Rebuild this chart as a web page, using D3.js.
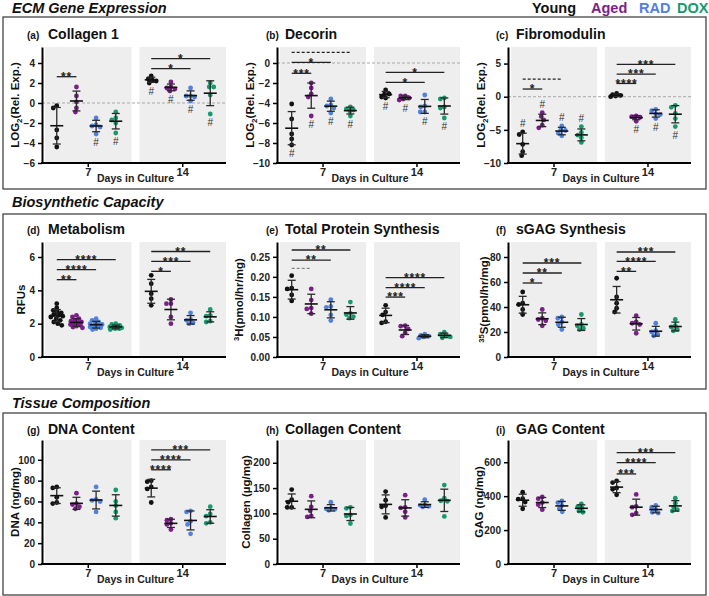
<!DOCTYPE html>
<html><head><meta charset="utf-8">
<script src="https://cdn.jsdelivr.net/npm/d3@7"></script>
<style>
html,body{margin:0;padding:0;background:#fff;}
svg{display:block;font-family:"Liberation Sans",Arial,Helvetica,sans-serif;}
</style></head><body>
<svg id="chart" width="709" height="596"></svg>
<script>
// ---------- categories / labels ----------
const groups = ["Young", "Aged", "RAD", "DOX"];
const groupColors = ["#111111", "#7b1e88", "#5080e0", "#17996f"];
const days = ["7", "14"];
const sectionTitles = ["ECM Gene Expression", "Biosynthetic Capacity", "Tissue Composition"];
const panelLetters = ["(a)", "(b)", "(c)", "(d)", "(e)", "(f)", "(g)", "(h)", "(i)"];
const panelTitles = ["Collagen 1", "Decorin", "Fibromodulin", "Metabolism", "Total Protein Synthesis",
  "sGAG Synthesis", "DNA Content", "Collagen Content", "GAG Content"];
const xAxisTitle = "Days in Culture";
const yLabels = [
  [["LOG", ""], ["2", "sub"], ["(Rel. Exp.)", ""]],
  [["LOG", ""], ["2", "sub"], ["(Rel. Exp.)", ""]],
  [["LOG", ""], ["2", "sub"], ["(Rel. Exp.)", ""]],
  [["RFUs", ""]],
  [["3", "sup"], ["H(pmol/hr/mg)", ""]],
  [["35", "sup"], ["S(pmol/hr/mg)", ""]],
  [["DNA (ng/mg)", ""]],
  [["Collagen (µg/mg)", ""]],
  [["GAG (ng/mg)", ""]]
];

// ---------- y domains & ticks ----------
const domainA = [-6, 5.6],   ticksA = [-6, -4, -2, 0, 2, 4];
const domainB = [-10, 1.6],  ticksB = [-10, -8, -6, -4, -2, 0];
const domainC = [-10, 7.5],  ticksC = [-10, -5, 0, 5];
const domainD = [0, 6.9],    ticksD = [0, 2, 4, 6];
const domainE = [0, 0.287],  ticksE = [0, 0.05, 0.10, 0.15, 0.20, 0.25];
const domainF = [0, 92],     ticksF = [0, 20, 40, 60, 80];
const domainG = [0, 119],    ticksG = [0, 20, 40, 60, 80, 100];
const domainH = [0, 245],    ticksH = [0, 50, 100, 150, 200];
const domainI = [0, 731],    ticksI = [0, 200, 400, 600];

// ---------- values: [Young, Aged, RAD, DOX] per day ----------
const collagen1Day7 = [[-0.27, -0.5, -2.7, -3.5, -4.4], [1.6, 0.7, 0.1, -0.5, -0.9], [-1.5, -2.2, -2.3, -2.4, -3.1], [-0.9, -1.5, -1.7, -2.0, -3.0]];
const collagen1Day14 = [[2.7, 2.4, 2.3, 2.2, 2.0], [2.1, 1.6, 1.5, 1.4, 1.2], [1.5, 0.7, 0.7, 0.6, 0.2], [2.0, 1.6, 1.6, 0.8, -1.1]];
const decorinDay7 = [[-4.1, -5.6, -7.1, -7.6, -8.2], [-2.0, -2.5, -3.1, -3.4, -5.3], [-3.6, -4.2, -4.3, -4.5, -5.0], [-4.4, -4.6, -4.7, -4.8, -5.3]];
const decorinDay14 = [[-2.7, -3.1, -3.1, -3.4, -3.5], [-3.3, -3.3, -3.5, -3.6, -3.7], [-3.2, -4.3, -4.4, -4.9, -4.9], [-3.5, -3.6, -4.4, -4.5, -5.5]];
const fibroDay7 = [[-5.3, -5.7, -7.2, -8.3, -8.9], [-2.4, -3.0, -3.5, -4.3, -4.7], [-4.4, -5.0, -5.1, -5.5, -5.9], [-4.5, -5.4, -5.8, -6.2, -6.9]];
const fibroDay14 = [[0.5, 0.3, 0.2, 0.1, 0.0], [-2.9, -3.0, -3.1, -3.1, -3.7], [-1.9, -2.1, -2.6, -2.7, -3.3], [-1.3, -1.6, -2.5, -3.3, -4.5]];
const metabDay7 = [
  [3.2, 2.95, 2.8, 2.7, 2.65, 2.55, 2.5, 2.45, 2.4, 2.3, 2.2, 2.1, 2.0, 1.9],
  [2.5, 2.4, 2.3, 2.2, 2.15, 2.1, 2.05, 2.0, 1.95, 1.9, 1.85, 1.8, 1.75],
  [2.3, 2.2, 2.1, 2.05, 2.0, 1.95, 1.9, 1.85, 1.8, 1.75, 1.7, 1.65],
  [2.0, 1.95, 1.9, 1.85, 1.8, 1.8, 1.75, 1.75, 1.7, 1.7, 1.65]];
const metabDay14 = [[4.9, 4.4, 3.8, 3.5, 3.1], [3.45, 3.2, 3.2, 2.4, 2.0], [2.65, 2.25, 2.2, 2.05, 2.0], [2.85, 2.5, 2.45, 2.15, 2.1]];
const proteinDay7 = [[0.203, 0.172, 0.170, 0.155, 0.140], [0.170, 0.142, 0.122, 0.120, 0.108], [0.143, 0.126, 0.124, 0.105, 0.091], [0.137, 0.109, 0.106, 0.101, 0.097]];
const proteinDay14 = [[0.129, 0.112, 0.105, 0.088, 0.085], [0.078, 0.077, 0.070, 0.060, 0.052], [0.057, 0.054, 0.052, 0.050, 0.047], [0.062, 0.057, 0.053, 0.050, 0.048]];
const sgagDay7 = [[52, 43, 42, 38, 34], [38, 31, 30, 29, 25], [32, 31, 28, 26, 22], [34, 26, 25, 23, 22]];
const sgagDay14 = [[63, 48, 43, 39, 36], [33, 28, 27, 26, 19], [27, 21, 20, 18, 17], [30, 25, 24, 22, 21]];
const dnaDay7 = [[74, 73, 64, 59, 58], [68, 58, 57, 55, 53], [74, 62, 61, 60, 50], [71, 60, 56, 50, 44]];
const dnaDay14 = [[80, 79, 74, 72, 59], [43, 42, 39, 38, 33], [51, 50, 41, 38, 29], [55, 48, 46, 40, 39]];
const collContDay7 = [[147, 127, 122, 112, 112], [134, 113, 105, 95, 93], [122, 110, 109, 108, 106], [112, 110, 97, 95, 80]];
const collContDay14 = [[143, 126, 115, 113, 92], [136, 112, 111, 103, 92], [127, 117, 116, 114, 113], [156, 130, 124, 125, 94]];
const gagDay7 = [[423, 385, 382, 365, 325], [395, 385, 362, 350, 320], [372, 362, 345, 325, 308], [355, 340, 330, 312, 305]];
const gagDay14 = [[490, 480, 448, 440, 408], [410, 340, 335, 300, 290], [345, 335, 320, 305, 300], [388, 358, 335, 320, 312]];

// ---------- "#" marks (b = below group, a = above group) ----------
const collagen1Hash7 = ["", "", "b", "b"], collagen1Hash14 = ["b", "b", "b", "b"];
const decorinHash7 = ["b", "b", "b", "b"], decorinHash14 = ["b", "b", "b", "b"];
const fibroHash7 = ["a", "a", "a", "a"], fibroHash14 = ["", "b", "b", "b"];
const noHash = ["", "", "", ""];

// ---------- significance comparisons: [day, from, to, label, level(value)] ----------
const collagen1Sig = [["7", "Young", "Aged", "**", 2.63], ["14", "Young", "RAD", "*", 3.43], ["14", "Young", "DOX", "*", 4.43]];
const decorinSig = [["7", "Young", "Aged", "***", -1.03], ["7", "Young", "RAD", "*", 0.07], ["7", "Young", "DOX", "dash", 1.07],
  ["14", "Young", "RAD", "*", -1.93], ["14", "Young", "DOX", "*", -0.93]];
const fibroSig = [["7", "Young", "Aged", "*", 1.16], ["7", "Young", "RAD", "dash", 2.66],
  ["14", "Young", "Aged", "****", 2.0], ["14", "Young", "RAD", "***", 3.4], ["14", "Young", "DOX", "***", 4.87]];
const metabSig = [["7", "Young", "Aged", "**", 4.64], ["7", "Young", "RAD", "****", 5.24], ["7", "Young", "DOX", "****", 5.84],
  ["14", "Young", "Aged", "*", 5.14], ["14", "Young", "RAD", "***", 5.74], ["14", "Young", "DOX", "**", 6.33]];
const proteinSig = [["7", "Young", "Aged", "dashGray", 0.221], ["7", "Young", "RAD", "**", 0.242], ["7", "Young", "DOX", "**", 0.267],
  ["14", "Young", "Aged", "***", 0.1495], ["14", "Young", "RAD", "****", 0.173], ["14", "Young", "DOX", "****", 0.198]];
const sgagSig = [["7", "Young", "Aged", "*", 59.2], ["7", "Young", "RAD", "**", 67.2], ["7", "Young", "DOX", "***", 75.2],
  ["14", "Young", "Aged", "**", 68.5], ["14", "Young", "RAD", "****", 76.5], ["14", "Young", "DOX", "***", 84]];
const dnaSig = [["14", "Young", "Aged", "****", 90.4], ["14", "Young", "RAD", "****", 100], ["14", "Young", "DOX", "***", 109.6]];
const collContSig = [];
const gagSig = [["14", "Young", "Aged", "***", 531], ["14", "Young", "RAD", "****", 598], ["14", "Young", "DOX", "***", 657]];

// ---------- layout ----------
const W = 709, H = 596;
const cols = [
  {axisX: 42, range: [45, 226], letterX: 27, titleX: 48},
  {axisX: 277, range: [280, 460], letterX: 266, titleX: 285},
  {axisX: 508, range: [511, 691], letterX: 496, titleX: 516}
];
const rows = [
  {top: 47, bottom: 163, titleY: 39, headY: 13, box: [17, 189]},
  {top: 242, bottom: 357, titleY: 234, headY: 207, box: [214, 389]},
  {top: 440, bottom: 564, titleY: 434, headY: 408, box: [413, 595]}
];
const yLabelX = [15, 250, 481, 21, 239, 484, 15, 246, 479];
const R = 2.4;

const panels = [
  {domain: domainA, ticks: ticksA, d7: collagen1Day7, d14: collagen1Day14, h7: collagen1Hash7, h14: collagen1Hash14, sig: collagen1Sig, zero: true},
  {domain: domainB, ticks: ticksB, d7: decorinDay7, d14: decorinDay14, h7: decorinHash7, h14: decorinHash14, sig: decorinSig, zero: true},
  {domain: domainC, ticks: ticksC, d7: fibroDay7, d14: fibroDay14, h7: fibroHash7, h14: fibroHash14, sig: fibroSig, zero: true},
  {domain: domainD, ticks: ticksD, d7: metabDay7, d14: metabDay14, h7: noHash, h14: noHash, sig: metabSig},
  {domain: domainE, ticks: ticksE, d7: proteinDay7, d14: proteinDay14, h7: noHash, h14: noHash, sig: proteinSig, fmt: ".2f"},
  {domain: domainF, ticks: ticksF, d7: sgagDay7, d14: sgagDay14, h7: noHash, h14: noHash, sig: sgagSig},
  {domain: domainG, ticks: ticksG, d7: dnaDay7, d14: dnaDay14, h7: noHash, h14: noHash, sig: dnaSig},
  {domain: domainH, ticks: ticksH, d7: collContDay7, d14: collContDay14, h7: noHash, h14: noHash, sig: collContSig},
  {domain: domainI, ticks: ticksI, d7: gagDay7, d14: gagDay14, h7: noHash, h14: noHash, sig: gagSig}
];

const svg = d3.select("#chart");
svg.append("rect").attr("width", W).attr("height", H).attr("fill", "#fff");

// section boxes & headers
rows.forEach((r, i) => {
  svg.append("rect").attr("x", 3).attr("y", r.box[0]).attr("width", 703).attr("height", r.box[1] - r.box[0])
    .attr("fill", "none").attr("stroke", "#444").attr("stroke-width", 1.3);
  svg.append("text").attr("x", 12).attr("y", r.headY).text(sectionTitles[i])
    .attr("font-size", 14.5).attr("font-weight", "bold").attr("font-style", "italic").attr("fill", "#111");
});

// legend
const legendX = [532, 591, 639, 677];
svg.append("g").selectAll("text").data(groups).join("text")
  .attr("x", (d, i) => legendX[i]).attr("y", 13).text(d => d)
  .attr("font-size", 14.5).attr("font-weight", "bold").attr("fill", (d, i) => groupColors[i]);

// compact scatter layout: nudge overlapping dots sideways, within a narrow column
function dodge(vals, y) {
  const pts = vals.map(v => ({v, py: y(v), off: 0})).sort((a, b) => d3.descending(a.v, b.v));
  const placed = [];
  const minD = 1.7 * R;
  const maxOff = 6;
  const cands = [0];
  for (let s = 0.5; s <= maxOff; s += 0.5) cands.push(-s, s);
  for (const p of pts) {
    let best = 0, bestD = -1, found = false;
    for (const o of cands) {
      const d = placed.length ? d3.min(placed, q => Math.hypot(q.off - o, q.py - p.py)) : Infinity;
      if (d >= minD) { p.off = o; found = true; break; }
      if (d > bestD) { bestD = d; best = o; }
    }
    if (!found) p.off = best;
    placed.push(p);
  }
  return placed;
}

panels.forEach((p, i) => {
  const col = cols[i % 3], row = rows[Math.floor(i / 3)];
  const g = svg.append("g");
  const y = d3.scaleLinear().domain(p.domain).range([row.bottom, row.top]);
  const x = d3.scaleBand().domain(days).range(col.range).paddingInner(0.084);
  const gp = d3.scalePoint().domain(groups).range([0, x.bandwidth()]).padding(0.7);
  const cx = (day, grp) => x(day) + gp(grp) - 2;

  // grey day panels
  g.selectAll("rect.band").data(days).join("rect")
    .attr("x", d => x(d)).attr("y", row.top).attr("width", x.bandwidth()).attr("height", row.bottom - row.top)
    .attr("fill", "#eeeeee");

  if (p.zero) {
    g.append("line").attr("x1", col.axisX).attr("x2", col.range[1]).attr("y1", y(0)).attr("y2", y(0))
      .attr("stroke", "#a8a8a8").attr("stroke-width", 1).attr("stroke-dasharray", "3,2");
  }

  // points + mean/SD
  days.forEach((day, di) => {
    const sets = di === 0 ? p.d7 : p.d14;
    const hashes = di === 0 ? p.h7 : p.h14;
    sets.forEach((vals, gi) => {
      const c = cx(day, groups[gi]);
      const placed = dodge(vals, y);
      g.append("g").selectAll("circle").data(placed).join("circle")
        .attr("cx", d => c + d.off).attr("cy", d => d.py).attr("r", R).attr("fill", groupColors[gi]);
      const m = d3.mean(vals), s = d3.deviation(vals);
      const bar = g.append("g").attr("stroke", "#2a2a2a").attr("stroke-width", 1.3);
      bar.append("line").attr("x1", c).attr("x2", c).attr("y1", y(m - s)).attr("y2", y(m + s));
      bar.append("line").attr("x1", c - 4).attr("x2", c + 4).attr("y1", y(m - s)).attr("y2", y(m - s));
      bar.append("line").attr("x1", c - 4).attr("x2", c + 4).attr("y1", y(m + s)).attr("y2", y(m + s));
      bar.append("line").attr("x1", c - 6.5).attr("x2", c + 6.5).attr("y1", y(m)).attr("y2", y(m))
        .attr("stroke", "#111").attr("stroke-width", 1.6);
      const h = hashes[gi];
      if (h) {
        let yc;
        if (h === "b") yc = Math.max(y(m - s), y(d3.min(vals))) + 8.5;
        else yc = Math.min(y(m + s), y(d3.max(vals))) - 8.5;
        g.append("text").attr("x", c).attr("y", yc + 3.5).attr("text-anchor", "middle")
          .attr("font-size", 10).attr("fill", "#333").text("#");
      }
    });
  });

  // significance bars
  p.sig.forEach(([day, a, b, label, level]) => {
    const x1 = cx(day, a), x2 = cx(day, b), yy = y(level);
    const ln = g.append("line").attr("x1", x1).attr("x2", x2).attr("y1", yy).attr("y2", yy)
      .attr("stroke", label === "dashGray" ? "#888" : "#222").attr("stroke-width", 1.3);
    if (label === "dash" || label === "dashGray") {
      ln.attr("stroke-dasharray", "3,2");
    } else {
      g.append("text").attr("x", (x1 + x2) / 2).attr("y", yy + 4.3).attr("text-anchor", "middle")
        .attr("font-size", 12).attr("font-weight", "bold").attr("fill", "#222").attr("letter-spacing", 0.8)
        .text(label);
    }
  });

  // y axis
  const yAxis = d3.axisLeft(y).tickValues(p.ticks).tickSize(4).tickPadding(3).tickSizeOuter(0)
    .tickFormat(d3.format(p.fmt || "d"));
  const ya = g.append("g").attr("transform", `translate(${col.axisX},0)`).call(yAxis);
  ya.select(".domain").attr("stroke", "#000").attr("stroke-width", 2);
  ya.selectAll(".tick line").attr("stroke", "#000").attr("stroke-width", 1.5);
  ya.selectAll(".tick text").attr("font-size", 10).attr("font-weight", "bold").attr("fill", "#222")
    .attr("font-family", "Liberation Sans, Arial, sans-serif");

  // x axis
  g.append("line").attr("x1", col.axisX - 1).attr("x2", col.range[1]).attr("y1", row.bottom).attr("y2", row.bottom)
    .attr("stroke", "#000").attr("stroke-width", 2);
  const xa = g.append("g").attr("transform", `translate(0,${row.bottom})`)
    .call(d3.axisBottom(x).tickSize(4).tickPadding(1));
  xa.select(".domain").remove();
  xa.selectAll(".tick line").attr("stroke", "#000").attr("stroke-width", 1.5);
  xa.selectAll(".tick text").attr("font-size", 11).attr("font-weight", "bold").attr("fill", "#222")
    .attr("font-family", "Liberation Sans, Arial, sans-serif");
  g.append("text").attr("x", (x("7") + x("14") + x.bandwidth()) / 2).attr("y", row.bottom + 19)
    .attr("text-anchor", "middle").attr("font-size", 10.5).attr("font-weight", "bold").attr("fill", "#222")
    .text(xAxisTitle);

  // y label
  const yl = g.append("text")
    .attr("transform", `translate(${yLabelX[i] + 4},${(row.top + row.bottom) / 2}) rotate(-90)`)
    .attr("text-anchor", "middle").attr("font-size", 11.5).attr("font-weight", "bold").attr("fill", "#111");
  let shift = 0;
  yLabels[i].forEach(([txt, kind]) => {
    const ts = yl.append("tspan").text(txt);
    if (kind === "sub") { ts.attr("dy", 3 - shift).attr("font-size", 8); shift = 3; }
    else if (kind === "sup") { ts.attr("dy", -4 - shift).attr("font-size", 7.5); shift = -4; }
    else if (shift !== 0) { ts.attr("dy", -shift); shift = 0; }
  });

  // title
  g.append("text").attr("x", col.letterX).attr("y", row.titleY).text(panelLetters[i])
    .attr("font-size", 10).attr("font-weight", "bold").attr("fill", "#111");
  g.append("text").attr("x", col.titleX).attr("y", row.titleY).text(panelTitles[i])
    .attr("font-size", 14).attr("font-weight", "bold").attr("fill", "#111");
});
</script>
</body></html>
